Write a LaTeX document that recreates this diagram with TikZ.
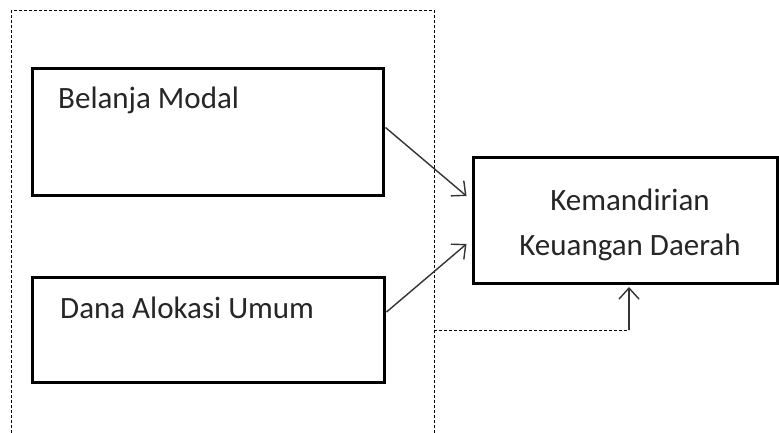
\documentclass[tikz,border=0pt]{standalone}
\usepackage{fontspec}
\setmainfont{Carlito}
\usetikzlibrary{arrows.meta,calc}
\begin{document}
\begin{tikzpicture}[x=1pt,y=-1pt,
  box/.style={draw=black,line width=3pt,fill=white,inner sep=0pt,rectangle},
  lbl/.style={inner sep=0pt,font=\fontsize{31}{45}\selectfont,text=black!85},
  conn/.style={line width=1.4pt,draw=black!80,-{Straight Barb[length=11pt,width=20pt,line width=1.4pt]}},
  frame/.style={draw=black,line width=1pt,dash pattern=on 3pt off 2pt}]
  \useasboundingbox (0,0) rectangle (779,432);
  \clip (0,0) rectangle (779,432);
  \fill[white] (0,0) rectangle (779,432);
  % dashed frame around the two independent variables
  \draw[frame] (11,10) rectangle (434,460);
  % independent variable boxes
  \node[box,minimum width=351pt,minimum height=127pt] (bm) at (207.5,131.5) {};
  \node[lbl,anchor=base west] (tbm) at (58,108) {Belanja Modal};
  \node[box,minimum width=352pt,minimum height=105pt] (dau) at (208,330) {};
  \node[lbl,anchor=base west] (tdau) at (60,318) {Dana Alokasi Umum};
  % dependent variable box
  \node[box,minimum width=304pt,minimum height=126pt,align=center] (kkd) at (625,220) {};
  \node[lbl,align=center] (tkkd) at (630,225) {Kemandirian\\Keuangan Daerah};
  % connectors
  \coordinate (p1) at ($(kkd.west)+(-5,-24)$);
  \coordinate (p2) at ($(kkd.west)+(-5,24)$);
  \coordinate (fr) at (434,330);
  \coordinate (cr) at (629,330);
  \coordinate (ct) at (629,287);
  \draw[conn] ($(bm.east)+(1,-4)$) -- (p1);
  \draw[conn] ($(dau.east)+(1,-18)$) -- (p2);
  \draw[frame] (fr) -- (cr);
  \draw[conn] (cr) -- (ct);
\end{tikzpicture}
\end{document}
